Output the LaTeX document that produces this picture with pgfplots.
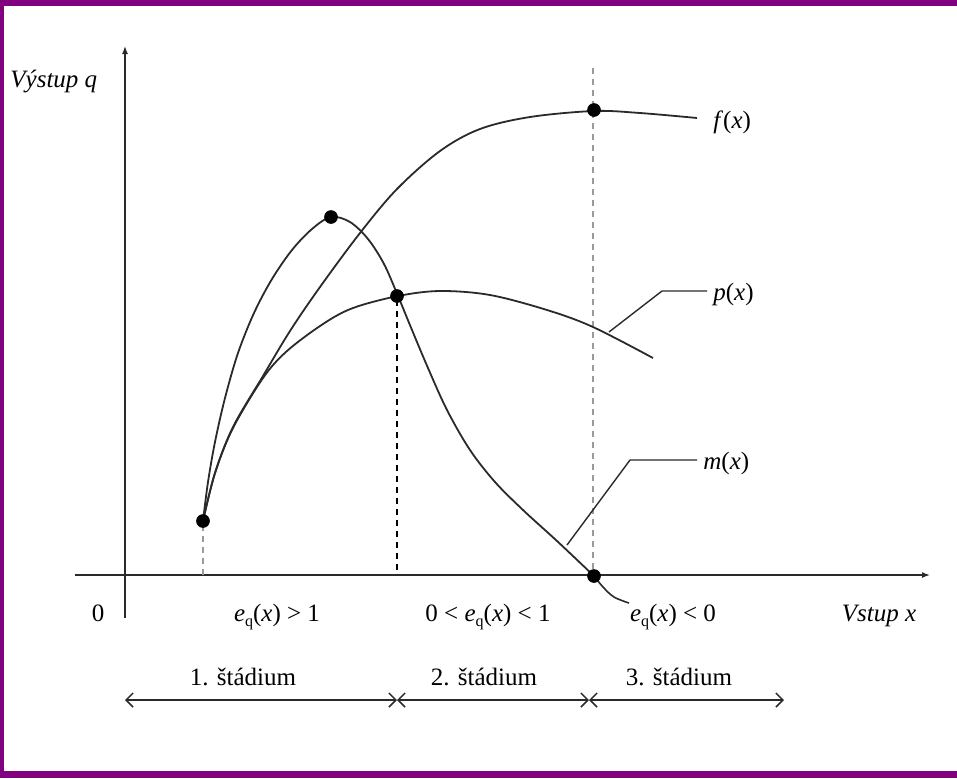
\documentclass[border=0pt]{standalone}
\usepackage{pgfplots}
\pgfplotsset{compat=1.18}
\usepackage{fontspec}
\setmainfont{Liberation Serif}
\usetikzlibrary{arrows.meta}
\definecolor{frame}{HTML}{800080}
\definecolor{crv}{HTML}{2A2A2A}
\definecolor{dgray}{HTML}{9A9A9A}
\newcommand{\eq}{\textit{e}\raisebox{-0.45ex}{\fontsize{8pt}{8pt}\selectfont q}(\textit{x})}
\begin{document}
\begin{tikzpicture}[every node/.style={font=\fontsize{12.5pt}{15pt}\selectfont, inner sep=0pt}]
\begin{axis}[width=478.5pt, height=389pt, scale only axis,
  xmin=0, xmax=957, ymin=0, ymax=778, y dir=reverse,
  hide axis, clip=false]
% frame
\fill[frame] (axis cs:0,0) rectangle (axis cs:957,6);
\fill[frame] (axis cs:0,771) rectangle (axis cs:957,778);
\fill[frame] (axis cs:0,0) rectangle (axis cs:4,778);
% axes
\draw[line width=0.7pt, crv, -{Latex[length=4pt,width=3pt]}] (axis cs:75,575) -- (axis cs:930,575);
\draw[line width=0.7pt, crv, -{Latex[length=4pt,width=3pt]}] (axis cs:125,618) -- (axis cs:125,46);
% dashed guides
\draw[dgray, line width=0.8pt, dash pattern=on 3pt off 2.5pt] (axis cs:203,525) -- (axis cs:203,575);
\draw[black, line width=0.7pt, dash pattern=on 3pt off 2.5pt] (axis cs:397,300) -- (axis cs:397,572);
\draw[dgray, line width=0.8pt, dash pattern=on 3pt off 2.5pt] (axis cs:593,68) -- (axis cs:593,575);
% m(x)
\addplot[crv, line width=0.9pt, smooth, tension=0.55] coordinates {
 (203,521) (208,482) (215,442) (225,398) (238,353) (254,313) (272,279) (292,250) (312,229) (331,217) (350,222) (368,239) (384,264) (398,296) (412,330) (428,368) (447,410) (470,450) (495,482) (523,510) (557,541) (594,576)};
% f(x)
\addplot[crv, line width=0.9pt, smooth, tension=0.55] coordinates {
 (203,521) (215,473) (233,427) (263,376) (290,331) (320,287) (360,233) (397,189) (440,151) (480,129) (530,117) (594,111) (640,113) (697,118)};
% p(x)
\addplot[crv, line width=0.9pt, smooth, tension=0.55] coordinates {
 (203,521) (215,473) (233,428) (263,378) (287,351) (323,324) (353,308) (398,296) (440,291) (490,295) (547,310) (593,327) (653,358)};
% leader to e_q(x) < 0
\addplot[crv, line width=0.8pt, smooth, tension=0.6] coordinates {
 (594,576) (603,587) (614,597) (629,603)};
% leaders
\draw[crv, line width=0.7pt] (axis cs:609,332) -- (axis cs:662,291) -- (axis cs:707,291);
\draw[crv, line width=0.7pt] (axis cs:567,545) -- (axis cs:630,460) -- (axis cs:697,460);
% dots
\addplot[only marks, mark=*, mark size=3.2pt, black] coordinates {
 (203,521) (331,217) (397,296) (594,110) (594,576)};
% labels
\node[anchor=base west] at (axis cs:10,87) {\textit{Výstup q}};
\node[anchor=base west] at (axis cs:713,128) {\textit{f}(\textit{x})};
\node[anchor=base west] at (axis cs:713,300) {\textit{p}(\textit{x})};
\node[anchor=base west] at (axis cs:703,469) {\textit{m}(\textit{x})};
\node[anchor=base] at (axis cs:98,621) {0};
\node[anchor=base] at (axis cs:277,621) {\eq\ > 1};
\node[anchor=base] at (axis cs:488,621) {0 < \eq\ < 1};
\node[anchor=base] at (axis cs:673,621) {\eq\ < 0};
\node[anchor=base] at (axis cs:879,621) {\textit{Vstup x}};
\node[anchor=base] at (axis cs:243,685) {1. štádium};
\node[anchor=base] at (axis cs:484,685) {2. štádium};
\node[anchor=base] at (axis cs:679,685) {3. štádium};
% stage arrows
\draw[crv, line width=0.75pt, {Straight Barb[length=3.5pt,width=7pt]}-{Straight Barb[length=3.5pt,width=7pt]}] (axis cs:125,700) -- (axis cs:397,700);
\draw[crv, line width=0.75pt, {Straight Barb[length=3.5pt,width=7pt]}-{Straight Barb[length=3.5pt,width=7pt]}] (axis cs:397,700) -- (axis cs:589,700);
\draw[crv, line width=0.75pt, {Straight Barb[length=3.5pt,width=7pt]}-{Straight Barb[length=3.5pt,width=7pt]}] (axis cs:589,700) -- (axis cs:784,700);
\end{axis}
\end{tikzpicture}
\end{document}
